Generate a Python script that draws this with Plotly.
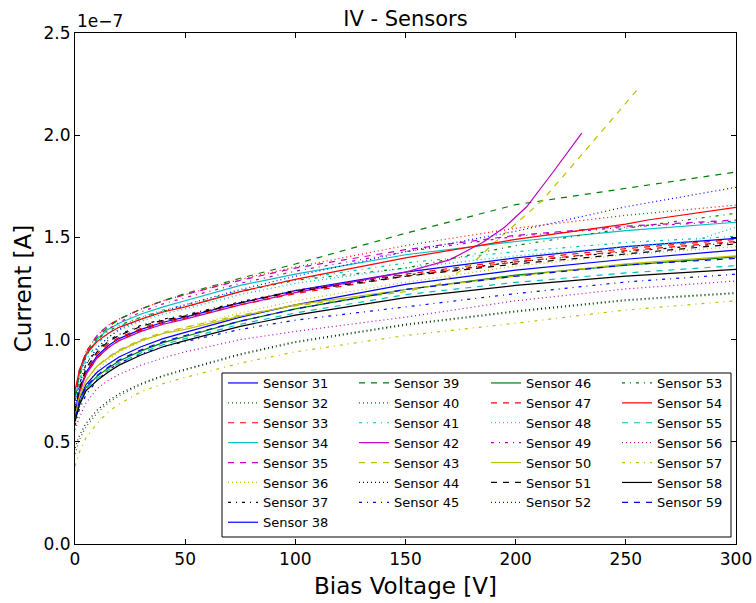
import plotly.graph_objects as go

# Bias voltage points [V]
V_COMMON = [0, 2, 5, 10, 15, 20, 30, 40, 50, 75, 100, 150, 200, 250, 300]
V_S42 = [0, 2, 5, 10, 15, 20, 30, 40, 50, 75, 100, 125, 150, 170, 185, 195, 205, 217, 230]
V_S43 = [0, 2, 5, 10, 15, 20, 30, 40, 50, 75, 100, 125, 150, 165, 180, 193, 212, 232, 255]
V_S48 = [0, 2, 5, 10, 15, 20, 30, 40, 50, 75, 100, 150, 200, 250, 280, 300]
V_S54 = [0, 2, 5, 10, 15, 20, 30, 40, 50, 75, 100, 150, 200, 250, 260, 300]

# Currents in units of 1e-7 A
I31 = [0.64, 0.75, 0.84, 0.92, 0.97, 1.005, 1.05, 1.085, 1.11, 1.18, 1.24, 1.33, 1.40, 1.455, 1.495]
I32 = [0.44, 0.51, 0.575, 0.64, 0.69, 0.725, 0.78, 0.82, 0.85, 0.925, 0.985, 1.07, 1.135, 1.19, 1.225]
I33 = [0.65, 0.76, 0.85, 0.93, 0.98, 1.01, 1.055, 1.09, 1.115, 1.18, 1.24, 1.32, 1.39, 1.445, 1.49]
I34 = [0.70, 0.83, 0.92, 1.00, 1.05, 1.08, 1.125, 1.16, 1.19, 1.265, 1.32, 1.415, 1.48, 1.533, 1.574]
I35 = [0.72, 0.85, 0.94, 1.02, 1.07, 1.10, 1.15, 1.19, 1.22, 1.29, 1.35, 1.44, 1.51, 1.555, 1.585]
I36 = [0.58, 0.68, 0.77, 0.85, 0.90, 0.94, 0.99, 1.03, 1.06, 1.13, 1.19, 1.28, 1.36, 1.415, 1.455]
I37 = [0.66, 0.78, 0.88, 0.95, 0.995, 1.025, 1.07, 1.10, 1.12, 1.185, 1.24, 1.315, 1.38, 1.43, 1.475]
I38 = [0.62, 0.71, 0.78, 0.84, 0.88, 0.915, 0.965, 1.005, 1.035, 1.11, 1.17, 1.27, 1.34, 1.393, 1.438]
I39 = [0.72, 0.84, 0.93, 1.01, 1.06, 1.10, 1.15, 1.19, 1.225, 1.30, 1.37, 1.52, 1.66, 1.74, 1.82]
I40 = [0.73, 0.85, 0.94, 1.02, 1.07, 1.10, 1.15, 1.19, 1.22, 1.295, 1.355, 1.46, 1.545, 1.608, 1.658]
I41 = [0.68, 0.80, 0.90, 0.98, 1.03, 1.065, 1.11, 1.145, 1.17, 1.24, 1.295, 1.375, 1.43, 1.475, 1.505]
I42 = [0.63, 0.74, 0.83, 0.91, 0.96, 0.995, 1.04, 1.075, 1.10, 1.17, 1.23, 1.28, 1.33, 1.39, 1.475, 1.55, 1.65, 1.82, 2.01]
I43 = [0.62, 0.72, 0.80, 0.87, 0.915, 0.95, 1.00, 1.035, 1.06, 1.12, 1.165, 1.20, 1.235, 1.27, 1.37, 1.50, 1.68, 1.93, 2.22]
I44 = [0.47, 0.53, 0.59, 0.655, 0.70, 0.735, 0.785, 0.825, 0.855, 0.93, 0.99, 1.075, 1.14, 1.195, 1.23]
I45 = [0.58, 0.66, 0.73, 0.80, 0.85, 0.885, 0.93, 0.965, 0.99, 1.05, 1.095, 1.16, 1.225, 1.282, 1.32]
I46 = [0.60, 0.69, 0.765, 0.82, 0.86, 0.895, 0.945, 0.985, 1.015, 1.09, 1.15, 1.245, 1.315, 1.364, 1.405]
I47 = [0.64, 0.74, 0.83, 0.91, 0.96, 0.995, 1.045, 1.08, 1.105, 1.17, 1.225, 1.31, 1.38, 1.435, 1.48]
I48 = [0.66, 0.78, 0.88, 0.96, 1.01, 1.045, 1.09, 1.125, 1.15, 1.22, 1.275, 1.35, 1.41, 1.455, 1.48, 1.55]
I49 = [0.70, 0.82, 0.92, 1.00, 1.05, 1.085, 1.135, 1.175, 1.205, 1.275, 1.335, 1.43, 1.505, 1.55, 1.58]
I50 = [0.63, 0.72, 0.80, 0.87, 0.91, 0.945, 0.995, 1.03, 1.05, 1.115, 1.17, 1.245, 1.31, 1.37, 1.41]
I51 = [0.65, 0.76, 0.86, 0.94, 0.99, 1.02, 1.065, 1.095, 1.115, 1.18, 1.235, 1.31, 1.37, 1.419, 1.468]
I52 = [0.66, 0.78, 0.88, 0.96, 1.01, 1.05, 1.10, 1.14, 1.17, 1.245, 1.31, 1.43, 1.53, 1.65, 1.745]
I53 = [0.70, 0.82, 0.92, 1.00, 1.04, 1.07, 1.11, 1.14, 1.16, 1.235, 1.29, 1.35, 1.46, 1.545, 1.618]
I54 = [0.75, 0.85, 0.93, 0.99, 1.03, 1.06, 1.10, 1.135, 1.16, 1.235, 1.295, 1.40, 1.49, 1.565, 1.585, 1.647]
I55 = [0.60, 0.68, 0.76, 0.81, 0.85, 0.885, 0.935, 0.975, 1.005, 1.075, 1.13, 1.22, 1.28, 1.326, 1.362]
I56 = [0.56, 0.62, 0.69, 0.76, 0.80, 0.83, 0.875, 0.91, 0.94, 1.00, 1.04, 1.11, 1.19, 1.248, 1.287]
I57 = [0.38, 0.45, 0.52, 0.59, 0.645, 0.685, 0.745, 0.785, 0.815, 0.885, 0.94, 1.02, 1.08, 1.145, 1.19]
I58 = [0.60, 0.68, 0.75, 0.80, 0.84, 0.875, 0.925, 0.965, 0.995, 1.065, 1.12, 1.205, 1.265, 1.311, 1.344]
I59 = [0.62, 0.70, 0.77, 0.825, 0.865, 0.90, 0.95, 0.99, 1.02, 1.09, 1.15, 1.245, 1.31, 1.365, 1.397]

SENSORS = [
    ("Sensor 31", V_COMMON, I31), ("Sensor 32", V_COMMON, I32), ("Sensor 33", V_COMMON, I33),
    ("Sensor 34", V_COMMON, I34), ("Sensor 35", V_COMMON, I35), ("Sensor 36", V_COMMON, I36),
    ("Sensor 37", V_COMMON, I37), ("Sensor 38", V_COMMON, I38), ("Sensor 39", V_COMMON, I39),
    ("Sensor 40", V_COMMON, I40), ("Sensor 41", V_COMMON, I41), ("Sensor 42", V_S42, I42),
    ("Sensor 43", V_S43, I43), ("Sensor 44", V_COMMON, I44), ("Sensor 45", V_COMMON, I45),
    ("Sensor 46", V_COMMON, I46), ("Sensor 47", V_COMMON, I47), ("Sensor 48", V_S48, I48),
    ("Sensor 49", V_COMMON, I49), ("Sensor 50", V_COMMON, I50), ("Sensor 51", V_COMMON, I51),
    ("Sensor 52", V_COMMON, I52), ("Sensor 53", V_COMMON, I53), ("Sensor 54", V_S54, I54),
    ("Sensor 55", V_COMMON, I55), ("Sensor 56", V_COMMON, I56), ("Sensor 57", V_COMMON, I57),
    ("Sensor 58", V_COMMON, I58), ("Sensor 59", V_COMMON, I59),
]

COLORS = ["#0000ff", "#008000", "#ff0000", "#00bfbf", "#bf00bf", "#bfbf00", "#000000"]
DASHES = {"solid": "solid", "dotted": "1px,3px", "dashed": "6px,6px", "dashdot": "3px,5px,1px,5px"}
STYLES = ["solid", "dotted", "dashed", "solid", "dashed", "dotted", "dashdot",
          "solid", "dashed", "dotted", "dashdot", "solid", "dashed", "dotted",
          "dashdot", "solid", "dashed", "dotted", "dashdot", "solid", "dashed",
          "dotted", "dashdot", "solid", "dashed", "dotted", "dashdot", "solid", "dashed"]

LEGEND_NAMES = ["legend", "legend2", "legend3", "legend4"]


def legend_column(i):
    # matplotlib ncol=4 fills columns first: 8, 7, 7, 7 entries
    if i < 8:
        return 0
    return 1 + (i - 8) // 7


fig = go.Figure()
for i, (name, v, cur) in enumerate(SENSORS):
    fig.add_trace(go.Scatter(
        x=v, y=cur, mode="lines", name=name,
        line=dict(color=COLORS[i % 7], width=1.2, dash=DASHES[STYLES[i]]),
        legend=LEGEND_NAMES[legend_column(i)],
    ))

PLOT_L, PLOT_R, PLOT_T, PLOT_B = 75, 736, 33, 544
PW, PH = PLOT_R - PLOT_L, PLOT_B - PLOT_T


def px_x(p):
    return (p - PLOT_L) / PW


def px_y(p):
    return (PLOT_B - p) / PH


legend_text_x = [264, 395, 527, 658]
legend_top = 368
legend_layouts = {}
for k, lname in enumerate(LEGEND_NAMES):
    legend_layouts[lname] = dict(
        orientation="v", x=px_x(legend_text_x[k] - 41), xanchor="left",
        y=px_y(legend_top), yanchor="top", xref="paper", yref="paper",
        bgcolor="rgba(0,0,0,0)", borderwidth=0, font=dict(size=13),
        tracegroupgap=0, itemwidth=30,
    )

axis_common = dict(showline=True, linecolor="black", linewidth=1, mirror="allticks",
                   ticks="inside", ticklen=5, tickcolor="black", showgrid=False,
                   zeroline=False, automargin=False, tickfont=dict(size=17, color="black"))
fig.update_layout(
    width=756, height=603,
    margin=dict(l=PLOT_L, r=756 - PLOT_R, t=PLOT_T, b=603 - PLOT_B),
    paper_bgcolor="white", plot_bgcolor="white",
    font=dict(family="DejaVu Sans", color="black"),
    title=dict(text="IV - Sensors", x=0.5, xanchor="center", y=0.969, yanchor="middle",
               xref="paper", font=dict(size=21), automargin=False),
    xaxis=dict(range=[0, 300], tickvals=[0, 50, 100, 150, 200, 250, 300],
               title=dict(text="Bias Voltage [V]", font=dict(size=23), standoff=9), **axis_common),
    yaxis=dict(range=[0, 2.5], tickvals=[0, 0.5, 1.0, 1.5, 2.0, 2.5], tickformat=".1f",
               title=dict(text="Current [A]", font=dict(size=23), standoff=5), **axis_common),
    showlegend=True,
    **legend_layouts,
)
# legend frame (white box with black border, like matplotlib)
fig.add_shape(type="rect", xref="paper", yref="paper",
              x0=px_x(222), x1=px_x(731), y0=px_y(537), y1=px_y(373),
              fillcolor="white", line=dict(color="black", width=1), layer="above")
fig.add_annotation(text="1e\u22127", xref="paper", yref="paper", x=0, y=1,
                   xanchor="left", yanchor="bottom", showarrow=False, font=dict(size=17),
                   yshift=0)
fig.write_html("out.html")
